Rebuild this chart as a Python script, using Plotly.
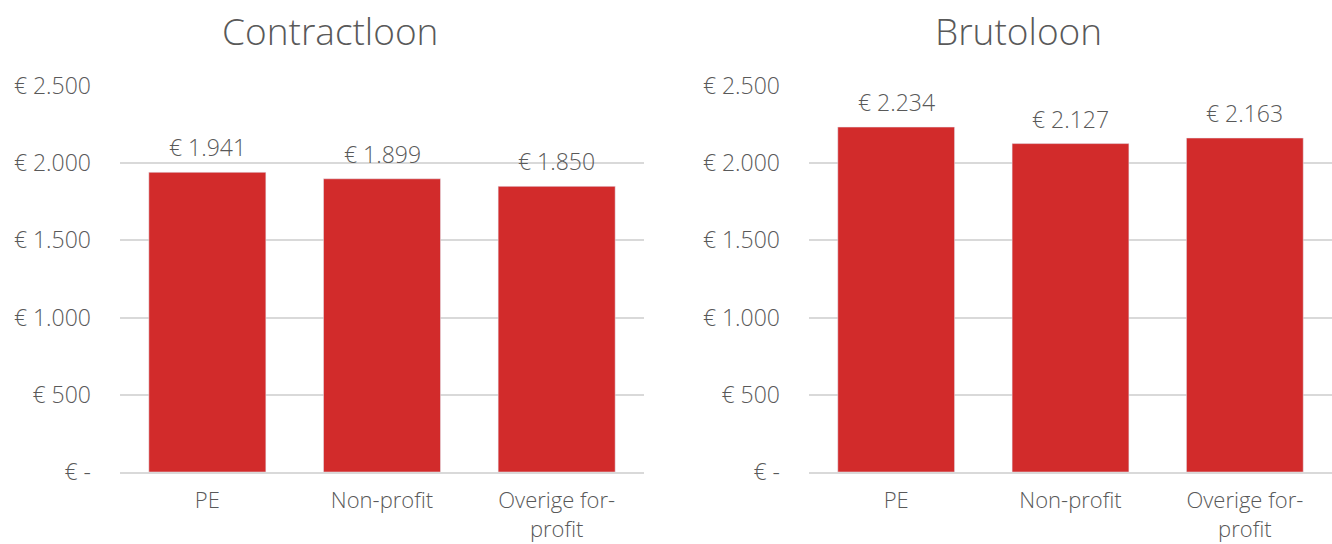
import plotly.graph_objects as go

# Salary comparison per sector (euro per month)
categories = ["PE", "Non-profit", "Overige for-<br>profit"]
contractloon = [1941, 1899, 1850]
brutoloon = [2234, 2127, 2163]
tick_values = [0, 500, 1000, 1500, 2000, 2500]
tick_labels = ["€ -", "€ 500", "€ 1.000", "€ 1.500", "€ 2.000", "€ 2.500"]
titles = ["Contractloon", "Brutoloon"]

BAR = "#D22B2B"
TEXT = "#595959"
GRID = "#D9D9D9"
FONT = "Open Sans"
WEIGHT = 300


def euro(v):
    return "€ " + f"{v:,}".replace(",", ".")


fig = go.Figure()
fig.add_trace(go.Bar(x=categories, y=contractloon, marker_color=BAR,
                     xaxis="x", yaxis="y", showlegend=False))
fig.add_trace(go.Bar(x=categories, y=brutoloon, marker_color=BAR,
                     xaxis="x2", yaxis="y2", showlegend=False))

annotations = []
for xref, yref, values in (("x", "y", contractloon), ("x2", "y2", brutoloon)):
    for c, v in zip(categories, values):
        annotations.append(dict(
            x=c, y=v, xref=xref, yref=yref, text=euro(v), showarrow=False,
            yanchor="bottom", yshift=7,
            font=dict(family=FONT, size=23, color=TEXT, weight=WEIGHT)))

L, R, T, B, W, H = 120, 0, 86, 72, 1332, 544
pw = W - L - R
ph = H - T - B


def px_x(x):
    return (x - L) / pw


def px_y(y):
    return (H - B - y) / ph


# chart titles, centred over each panel
for text, cx in zip(titles, (330, 1018)):
    annotations.append(dict(
        x=px_x(cx), y=px_y(31), xref="paper", yref="paper", text=text,
        showarrow=False, xanchor="center", yanchor="middle",
        font=dict(family=FONT, size=37, color=TEXT, weight=WEIGHT)))

axis_y = dict(range=[0, 2500], tickvals=tick_values, ticktext=tick_labels,
              showgrid=True, gridcolor=GRID, gridwidth=2, zeroline=False,
              showline=False, ticks="", ticklabelstandoff=28,
              tickfont=dict(family=FONT, size=23, color=TEXT, weight=WEIGHT),
              fixedrange=True)
axis_x = dict(showline=True, linecolor=GRID, linewidth=2, ticks="",
              tickfont=dict(family=FONT, size=22, color=TEXT, weight=WEIGHT),
              ticklabelstandoff=8)

fig.update_layout(
    width=W, height=H,
    margin=dict(l=L, r=R, t=T, b=B, autoexpand=False),
    paper_bgcolor="white", plot_bgcolor="white",
    bargap=0.33,
    xaxis=dict(domain=[0, px_x(644)], anchor="y", **axis_x),
    xaxis2=dict(domain=[px_x(809), 1], anchor="y2", **axis_x),
    yaxis=dict(domain=[0, 1], anchor="x", **axis_y),
    yaxis2=dict(domain=[0, 1], anchor="x2", **axis_y),
    annotations=annotations,
)

fig.write_html("out.html", config={"displayModeBar": False})
